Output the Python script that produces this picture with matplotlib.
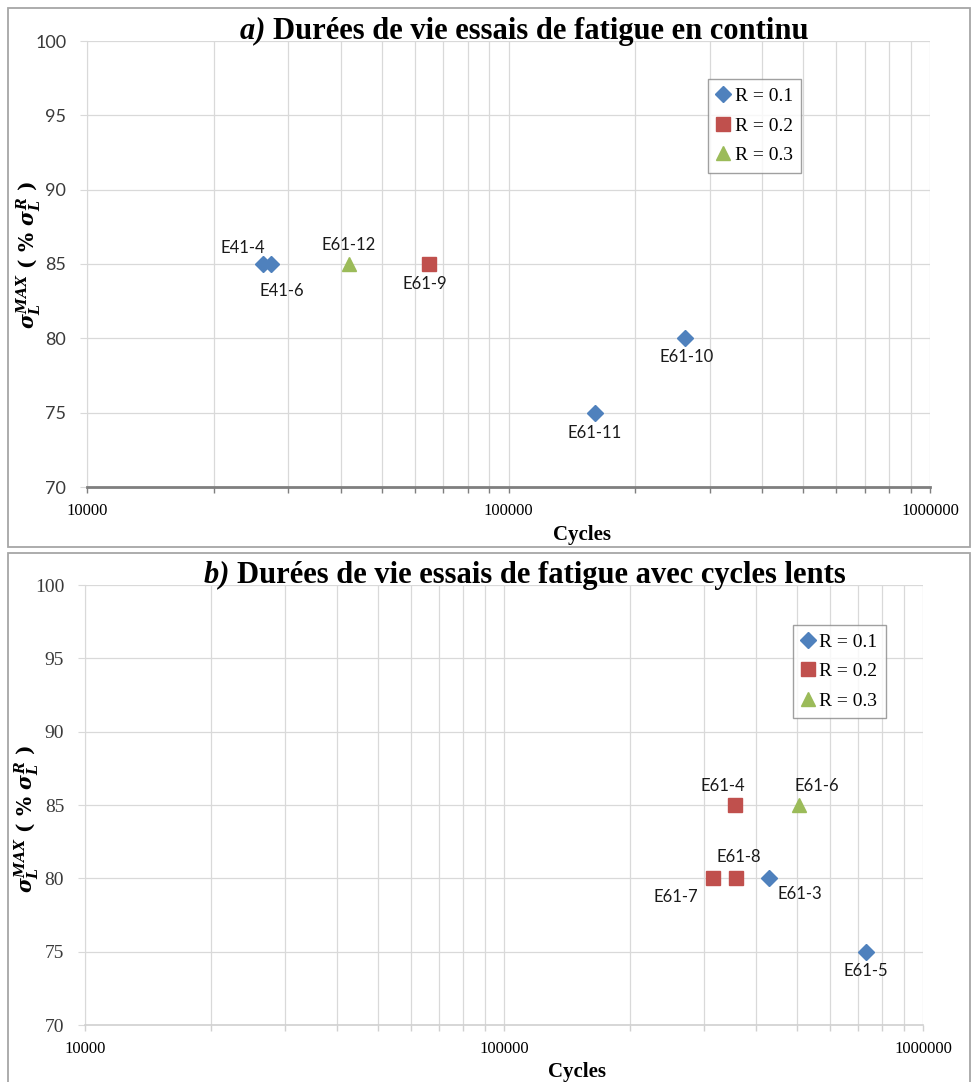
import numpy as np
import matplotlib.pyplot as plt
from matplotlib.patches import Rectangle
from matplotlib.ticker import LogLocator, NullFormatter, FixedLocator

plt.rcParams['mathtext.fontset'] = 'custom'
plt.rcParams['mathtext.it'] = 'DejaVu Serif:italic:bold'
plt.rcParams['mathtext.rm'] = 'DejaVu Serif:bold'
plt.rcParams['mathtext.bf'] = 'DejaVu Serif:bold'

# --- data: fatigue lives (cycles) vs max stress (% of rupture stress)
# a) continuous tests
a_r01_cycles = [26200, 27300, 262000, 160000]
a_r01_stress = [85, 85, 80, 75]
a_r01_names = ['E41-4', 'E41-6', 'E61-10', 'E61-11']
a_r02_cycles = [64700]
a_r02_stress = [85]
a_r02_names = ['E61-9']
a_r03_cycles = [41800]
a_r03_stress = [85]
a_r03_names = ['E61-12']

# b) tests with slow cycles
b_r01_cycles = [429000, 731000]
b_r01_stress = [80, 75]
b_r01_names = ['E61-3', 'E61-5']
b_r02_cycles = [356000, 315000, 358000]
b_r02_stress = [85, 80, 80]
b_r02_names = ['E61-4', 'E61-7', 'E61-8']
b_r03_cycles = [506000]
b_r03_stress = [85]
b_r03_names = ['E61-6']

legend_labels = ['R = 0.1', 'R = 0.2', 'R = 0.3']
titles = ['Durées de vie essais de fatigue en continu',
          'Durées de vie essais de fatigue avec cycles lents']
prefixes = ['a)', 'b)']
x_ticks = [1e4, 1e5, 1e6]
x_tick_labels = ['10000', '100000', '1000000']
y_ticks = [70, 75, 80, 85, 90, 95, 100]
y_tick_labels = ['70', '75', '80', '85', '90', '95', '100']

# label offsets in pixels (dx, dy)
a_offsets = {'E41-4': (-21, 16), 'E41-6': (11, -27), 'E61-10': (2, -19),
             'E61-11': (0, -20), 'E61-9': (-4, -20), 'E61-12': (0, 19)}
b_offsets = {'E61-3': (31, -16), 'E61-5': (0, -19), 'E61-4': (-12, 19),
             'E61-7': (-37, -19), 'E61-8': (3, 21), 'E61-6': (18, 19)}

blue = '#4F81BD'
red = '#C0504D'
green = '#9BBB59'

W, H = 972, 1082
fig = plt.figure(figsize=(W / 100, H / 100), dpi=100)

# panel frames
for (y0, y1) in [(8, 547), (553, 1090)]:
    fig.patches.append(Rectangle((8 / W, 1 - y1 / H), 962 / W, (y1 - y0) / H,
                                 transform=fig.transFigure, fill=False,
                                 edgecolor='#A6A6A6', lw=1.3))


def panel(rect, series, offsets, title, prefix, leg_pos, axis_col, axis_lw,
          ylab_x, ylab_y):
    ax = fig.add_axes(rect)
    ax.set_xscale('log')
    ax.set_xlim(1e4, 1e6)
    ax.set_ylim(70, 100)
    ax.set_yticks(y_ticks, y_tick_labels)
    ax.xaxis.set_major_locator(FixedLocator(x_ticks))
    ax.set_xticklabels(x_tick_labels)
    ax.xaxis.set_minor_locator(LogLocator(base=10, subs=np.arange(2, 10)))
    ax.xaxis.set_minor_formatter(NullFormatter())
    ax.grid(True, which='both', axis='x', color='#D9D9D9', lw=0.9)
    ax.grid(True, which='major', axis='y', color='#D9D9D9', lw=0.9)
    ax.set_axisbelow(True)
    for s in ['top', 'right']:
        ax.spines[s].set_visible(False)
    ax.spines['left'].set_color('#D9D9D9')
    ax.spines['bottom'].set_color(axis_col)
    ax.spines['bottom'].set_linewidth(axis_lw)
    ax.tick_params(axis='x', which='both', direction='out', length=4.5,
                   color=axis_col, width=1, pad=7)
    ax.tick_params(axis='x', which='major', labelsize=12,
                   labelfontfamily='Liberation Serif')
    ax.tick_params(axis='y', direction='out', length=5, color='#D9D9D9',
                   pad=10, labelcolor='#3a3a3a')

    handles = []
    for (xs, ys, names), col, mk, ms in zip(series, [blue, red, green],
                                             ['D', 's', '^'], [8, 10, 10]):
        h, = ax.plot(xs, ys, ls='none', marker=mk, ms=ms, color=col,
                     mec=col, zorder=3)
        handles.append(h)
        for x, y, n in zip(xs, ys, names):
            ax.annotate(n, (x, y), xytext=offsets[n], textcoords='offset pixels',
                        ha='center', va='center', fontsize=12,
                        family='Lato', color='#1a1a1a')

    leg = ax.legend(handles, legend_labels, loc='upper left',
                    bbox_to_anchor=leg_pos, frameon=True, fancybox=False,
                    prop={'family': 'Liberation Serif', 'size': 14},
                    handlelength=0.6, handletextpad=0.3, borderpad=0.45,
                    labelspacing=0.6, borderaxespad=0)
    leg.get_frame().set_edgecolor('#888888')
    leg.get_frame().set_linewidth(1)

    ax.set_xlabel('Cycles', family='Liberation Serif', fontweight='bold',
                  fontsize=15)
    ax.xaxis.set_label_coords(0.587, -0.085)
    ax.set_ylabel(r'$\sigma_L^{MAX}\ (\ \%\ \sigma_L^R\ )$', fontsize=14.5)
    ax.yaxis.set_label_coords(ylab_x, ylab_y)

    t = ax.text((541 - rect[0] * W) / (rect[2] * W), 1.0 + 10 / (rect[3] * H),
                title, transform=ax.transAxes, ha='center', va='center',
                family='Liberation Serif', fontweight='bold', fontsize=22)
    ax.annotate(prefix + ' ', (0, 0.5), xycoords=t, ha='right', va='center',
                family='Liberation Serif', fontweight='bold', style='italic',
                fontsize=22)
    return ax


ax_a = panel([87 / W, 1 - 487 / H, 843 / W, 446 / H],
             [(a_r01_cycles, a_r01_stress, a_r01_names),
              (a_r02_cycles, a_r02_stress, a_r02_names),
              (a_r03_cycles, a_r03_stress, a_r03_names)],
             a_offsets, titles[0], prefixes[0], (0.737, 0.915), '#7F7F7F', 2.0,
             -0.052, 0.52)

ax_b = panel([85 / W, 1 - 1025 / H, 838 / W, 440 / H],
             [(b_r01_cycles, b_r01_stress, b_r01_names),
              (b_r02_cycles, b_r02_stress, b_r02_names),
              (b_r03_cycles, b_r03_stress, b_r03_names)],
             b_offsets, titles[1], prefixes[1], (0.845, 0.91), '#D0D0D0', 1.2,
             -0.053, 0.468)

# y tick fonts differ between the two panels (sans on top, serif below)
fig.canvas.draw()
for ax, fam, size in [(ax_a, 'Lato', 13), (ax_b, 'Liberation Serif', 14)]:
    for tick in ax.yaxis.get_major_ticks():
        tick.label1.set_fontfamily(fam)
        tick.label1.set_fontsize(size)

fig.savefig('out.png', dpi=100)
